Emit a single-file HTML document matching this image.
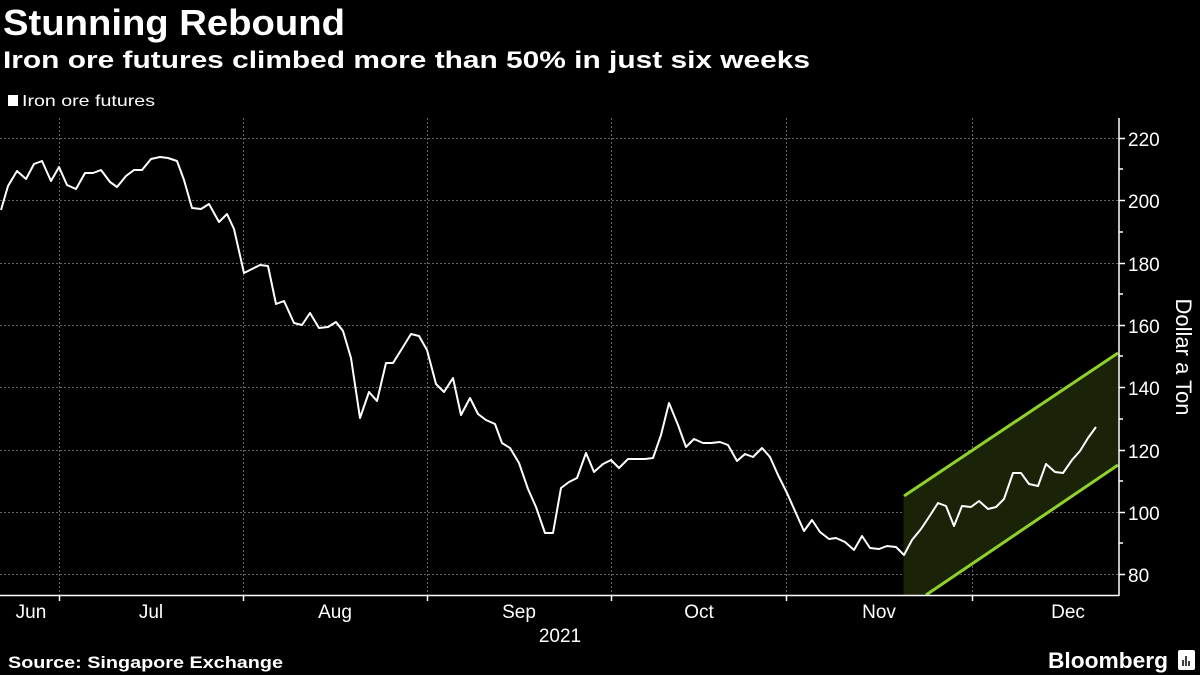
<!DOCTYPE html>
<html><head><meta charset="utf-8"><style>
html,body{margin:0;padding:0;background:#000;}
svg{display:block;}
text{font-family:"Liberation Sans",sans-serif;fill:#fff;}
</style></head><body>
<svg width="1200" height="675" viewBox="0 0 1200 675" xmlns="http://www.w3.org/2000/svg">
<rect width="1200" height="675" fill="#000"/>
<text x="3" y="35" font-size="36" font-weight="bold" textLength="342" lengthAdjust="spacingAndGlyphs">Stunning Rebound</text>
<text x="3" y="68" font-size="24" font-weight="bold" textLength="807" lengthAdjust="spacingAndGlyphs">Iron ore futures climbed more than 50% in just six weeks</text>
<rect x="8" y="95" width="10" height="11" fill="#fff"/>
<text x="22" y="106" font-size="16" textLength="133" lengthAdjust="spacingAndGlyphs">Iron ore futures</text>
<g stroke="#666" stroke-width="1" stroke-dasharray="2,2">
<line x1="0" y1="138.5" x2="1118" y2="138.5"/>
<line x1="0" y1="200.5" x2="1118" y2="200.5"/>
<line x1="0" y1="263.5" x2="1118" y2="263.5"/>
<line x1="0" y1="325.5" x2="1118" y2="325.5"/>
<line x1="0" y1="387.5" x2="1118" y2="387.5"/>
<line x1="0" y1="450.5" x2="1118" y2="450.5"/>
<line x1="0" y1="512.5" x2="1118" y2="512.5"/>
<line x1="0" y1="574.5" x2="1118" y2="574.5"/>
<line x1="59.5" y1="118" x2="59.5" y2="595"/>
<line x1="243.5" y1="118" x2="243.5" y2="595"/>
<line x1="427.5" y1="118" x2="427.5" y2="595"/>
<line x1="611.5" y1="118" x2="611.5" y2="595"/>
<line x1="786.5" y1="118" x2="786.5" y2="595"/>
<line x1="972.5" y1="118" x2="972.5" y2="595"/>
</g>
<polygon points="904,496 1118,353 1118,465 926,595 904,595" fill="#1a2208"/>
<line x1="904" y1="496" x2="1118" y2="353" stroke="#8fd12a" stroke-width="3"/>
<line x1="926" y1="595" x2="1118" y2="465" stroke="#8fd12a" stroke-width="3"/>
<line x1="904" y1="496" x2="904" y2="595" stroke="#1a2208"/>
<polyline fill="none" stroke="#fff" stroke-width="2" stroke-linejoin="round" points="1,210 8,186 17,171 26,179 34,164 42,161 51,181 59,167 67,185 76,189 85,173 93,173 101,170 110,182 117,187 126,176 134,170 142,170 151,159 160,157 168,158 177,161 184,180 192,208 201,209 209,204 219,222 227,214 234,229 244,273 252,269 260,265 268,266 276,304 284,301 294,323 302,325 310,313 319,328 328,327 336,322 343,331 351,358 360,418 369,392 377,401 386,363 393,363 403,347 411,334 419,336 427,350 436,384 444,392 453,378 461,415 470,398 478,414 486,420 495,424 502,443 510,448 519,463 528,489 536,507 545,533 553,533 561,488 569,482 577,478 586,453 594,472 603,464 611,460 619,468 628,459 637,459 645,459 653,458 661,435 669,403 678,425 686,447 694,439 703,443 711,443 720,442 728,445 737,461 745,454 753,457 762,448 770,457 778,475 787,493 795,511 804,531 812,520 820,532 829,539 836,538 845,542 854,550 862,536 870,548 879,549 887,546 896,547 904,555 912,540 921,529 929,517 938,503 946,506 954,526 962,506 971,507 979,501 988,509 996,507 1004,499 1013,473 1021,473 1029,484 1038,486 1046,464 1055,472 1063,473 1072,460 1080,451 1088,438 1096,427"/>
<line x1="0" y1="595.5" x2="1119" y2="595.5" stroke="#fff" stroke-width="1.5"/>
<line x1="1119" y1="118" x2="1119" y2="596" stroke="#fff" stroke-width="1.5"/>
<g stroke="#fff" stroke-width="1.5">
<line x1="1119" y1="138.5" x2="1125" y2="138.5"/><line x1="1119" y1="200.5" x2="1125" y2="200.5"/>
<line x1="1119" y1="263.5" x2="1125" y2="263.5"/><line x1="1119" y1="325.5" x2="1125" y2="325.5"/>
<line x1="1119" y1="387.5" x2="1125" y2="387.5"/><line x1="1119" y1="450.5" x2="1125" y2="450.5"/>
<line x1="1119" y1="512.5" x2="1125" y2="512.5"/><line x1="1119" y1="574.5" x2="1125" y2="574.5"/>
<line x1="1119" y1="169" x2="1123" y2="169"/><line x1="1119" y1="232" x2="1123" y2="232"/>
<line x1="1119" y1="294" x2="1123" y2="294"/><line x1="1119" y1="356" x2="1123" y2="356"/>
<line x1="1119" y1="419" x2="1123" y2="419"/><line x1="1119" y1="481" x2="1123" y2="481"/>
<line x1="1119" y1="543" x2="1123" y2="543"/>
<line x1="59.5" y1="595" x2="59.5" y2="601"/><line x1="243.5" y1="595" x2="243.5" y2="601"/>
<line x1="427.5" y1="595" x2="427.5" y2="601"/><line x1="611.5" y1="595" x2="611.5" y2="601"/>
<line x1="786.5" y1="595" x2="786.5" y2="601"/><line x1="972.5" y1="595" x2="972.5" y2="601"/>
</g>
<g font-size="19">
<text x="1128" y="146">220</text><text x="1128" y="208">200</text><text x="1128" y="271">180</text>
<text x="1128" y="333">160</text><text x="1128" y="395">140</text><text x="1128" y="458">120</text>
<text x="1128" y="520">100</text><text x="1128" y="582">80</text>
</g>
<text transform="translate(1176,357) rotate(90)" font-size="22" text-anchor="middle">Dollar a Ton</text>
<g font-size="19" text-anchor="middle">
<text x="31" y="618">Jun</text><text x="151" y="618">Jul</text><text x="335" y="618">Aug</text>
<text x="519" y="618">Sep</text><text x="699" y="618">Oct</text><text x="879" y="618">Nov</text>
<text x="1068" y="618">Dec</text><text x="560" y="642">2021</text>
</g>
<text x="8" y="668" font-size="17" font-weight="bold" textLength="275" lengthAdjust="spacingAndGlyphs">Source: Singapore Exchange</text>
<text x="1048" y="668" font-size="22" font-weight="bold" textLength="120" lengthAdjust="spacingAndGlyphs">Bloomberg</text>
<rect x="1178" y="650" width="17" height="20" rx="2" fill="#fff"/>
<g stroke="#000" stroke-width="1.5"><line x1="1183" y1="666" x2="1183" y2="660"/><line x1="1186" y1="666" x2="1186" y2="656"/><line x1="1189" y1="666" x2="1189" y2="661"/></g>
</svg>
</body></html>
